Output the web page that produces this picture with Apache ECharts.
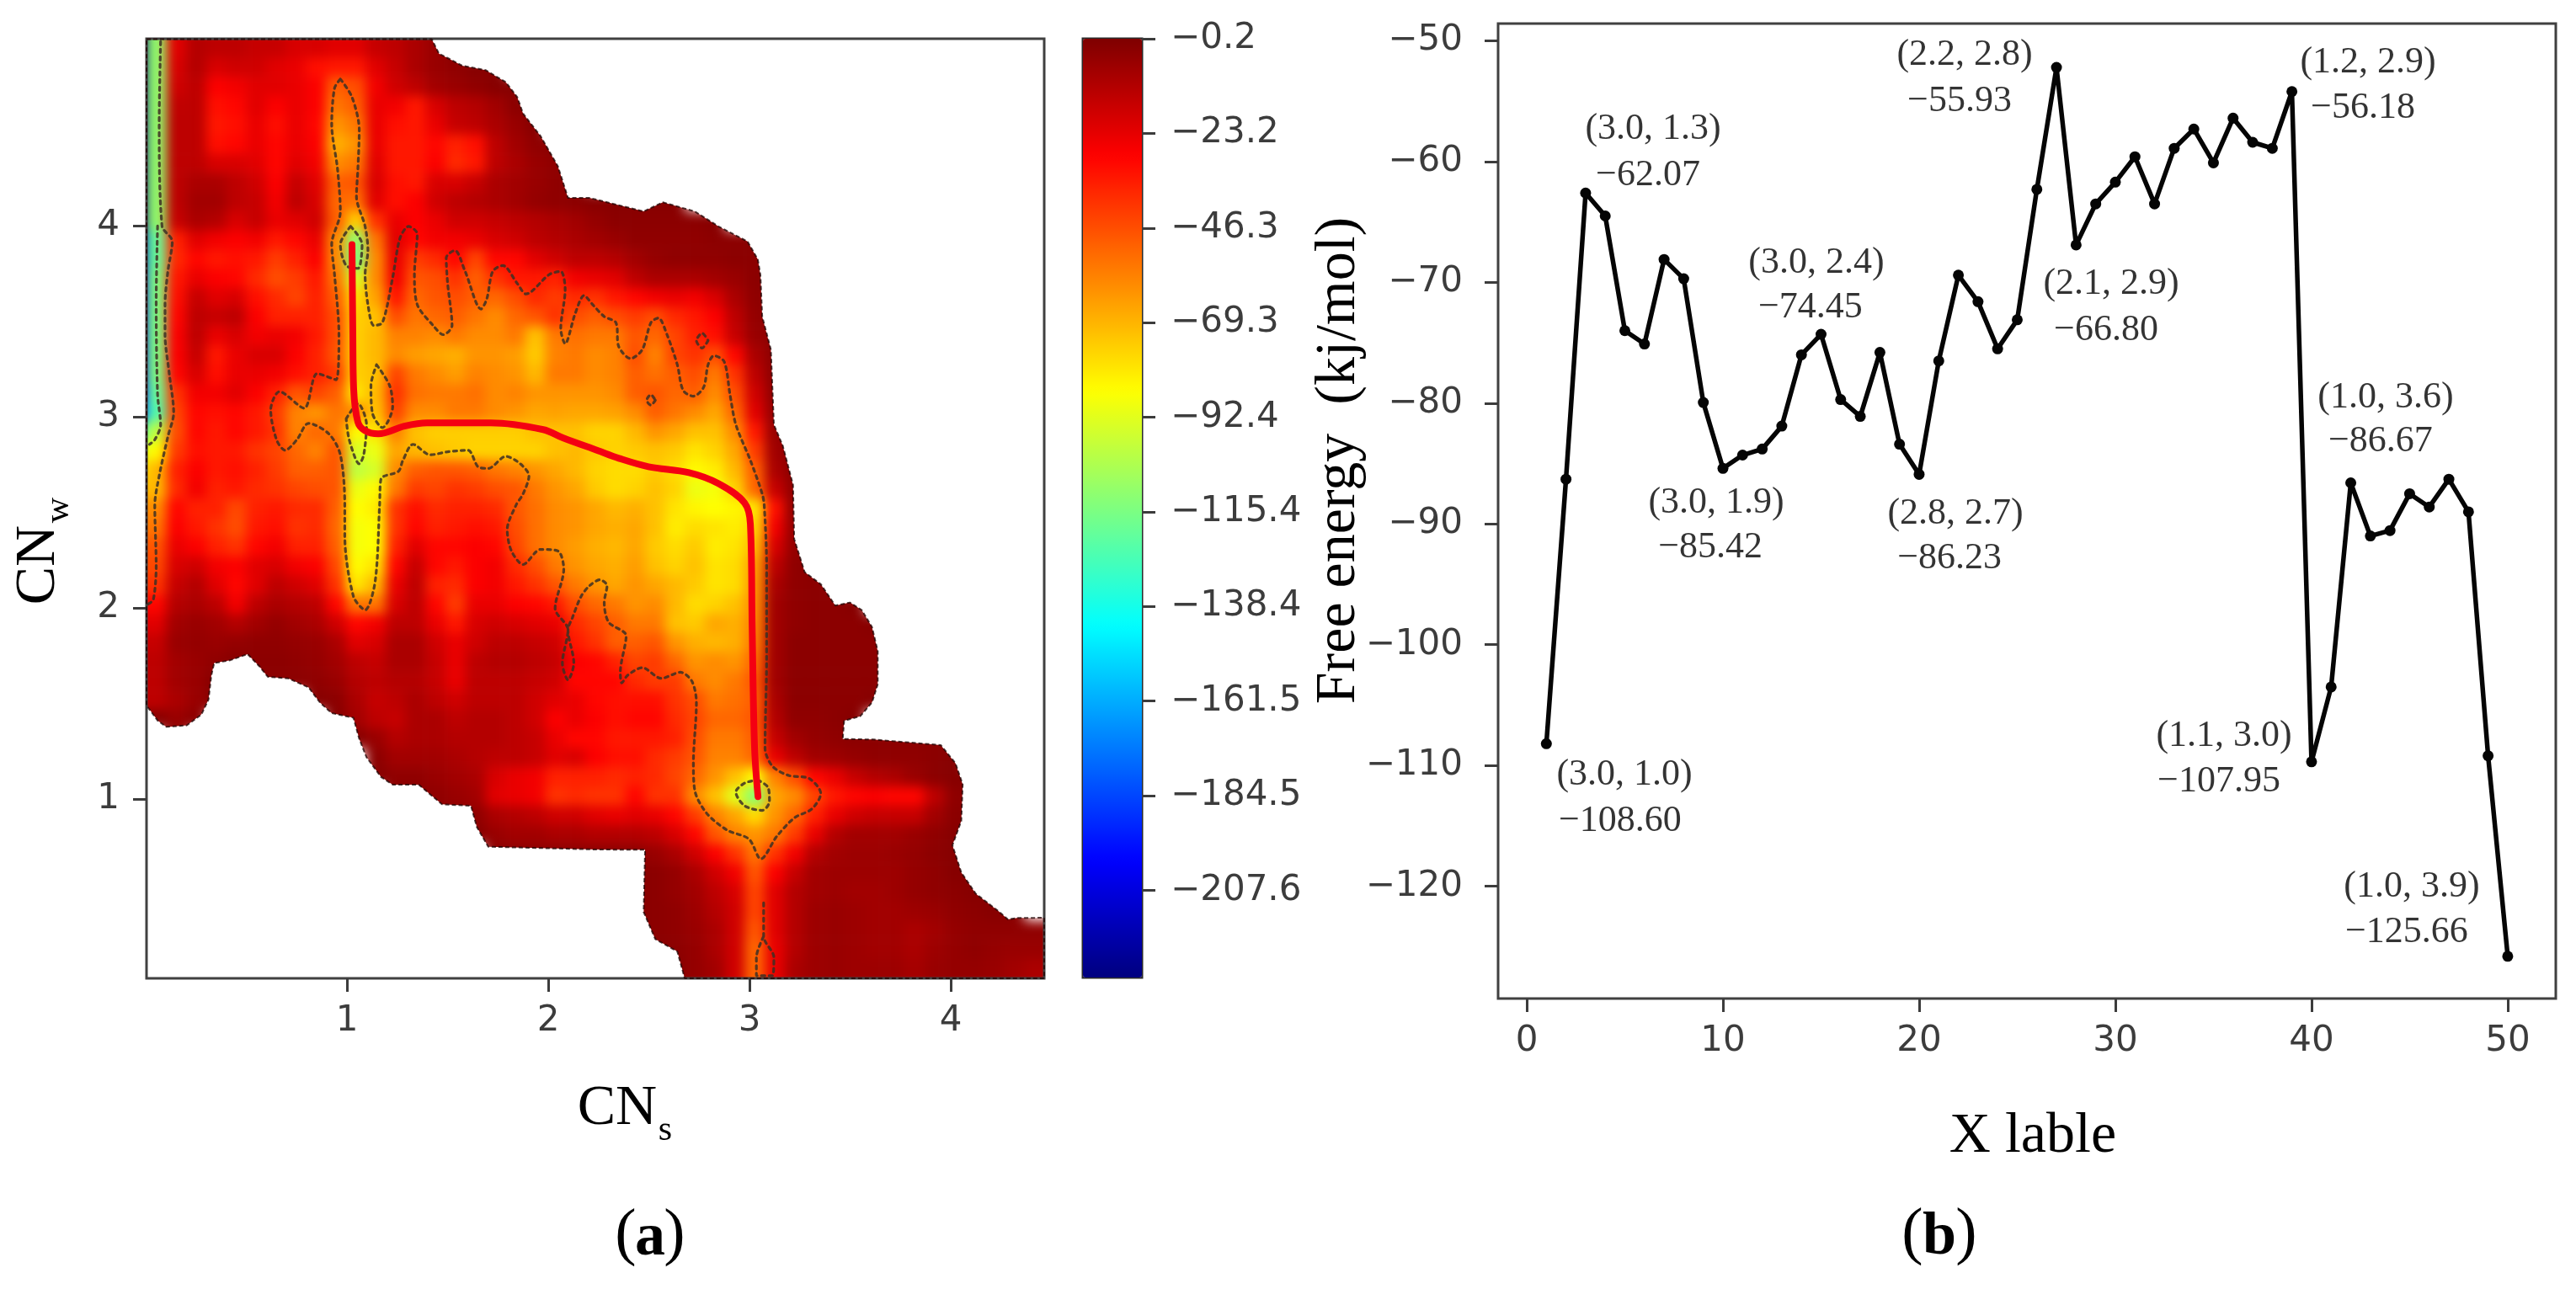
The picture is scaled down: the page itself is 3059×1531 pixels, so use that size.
<!DOCTYPE html>
<html><head><meta charset="utf-8">
<style>html,body{margin:0;padding:0;background:#fff}#c{width:3059px;height:1531px}</style>
<script src="https://cdn.jsdelivr.net/npm/echarts@6/dist/echarts.min.js"></script>
</head><body><div id="c"></div>
<script>
// ---- Panel (a): free-energy depth per cell (kJ/mol below zero), 0 = no data. Rows run top to bottom.
const heatDepth = [
[110,22,12,14,14,16,16,20,20,22,22,16,14,10,6,2],
[110,20,12,20,18,18,22,24,32,34,34,22,16,10,6,4,2,2],
[110,18,14,28,26,22,22,24,28,50,46,26,18,14,8,6,4,2,2],
[110,15,14,32,30,22,28,24,28,55,50,24,26,34,20,14,12,8,3,2],
[110,14,14,34,32,24,32,24,30,62,56,24,32,34,24,16,14,10,6,2],
[110,14,14,32,30,24,30,24,28,68,62,24,34,34,30,36,32,14,8,4,2],
[110,14,14,20,20,22,30,22,26,60,56,22,34,34,28,38,34,14,10,6,4,2],
[110,14,10,10,14,18,28,16,22,50,48,20,32,34,20,20,16,10,8,6,4,2],
[110,14,8,8,14,16,26,14,20,52,54,22,32,28,18,14,12,10,8,5,4,3,2,2,2,2,2],
[110,16,10,12,20,16,24,22,18,50,75,40,24,28,24,18,18,16,14,12,10,8,5,3,3,3,3,3,2],
[120,36,22,26,28,26,34,30,24,60,110,55,22,30,26,26,24,20,18,14,12,10,8,6,4,4,4,4,3,3,2],
[120,38,30,34,32,34,42,36,28,60,115,60,24,42,38,30,44,30,30,22,18,14,14,12,8,5,4,4,4,3,3,2],
[115,34,24,28,30,38,46,42,34,55,95,60,26,48,46,40,50,40,34,34,36,26,24,22,14,10,10,10,8,6,3,2],
[115,32,16,22,20,32,38,44,36,50,78,65,34,52,48,46,50,52,46,38,42,38,40,34,30,26,24,26,20,10,4,2],
[115,30,14,16,14,28,36,36,36,46,75,72,46,55,52,50,55,60,52,48,40,46,50,46,42,46,38,34,28,14,5,2],
[115,28,14,24,20,26,24,26,34,46,75,70,58,58,60,56,60,60,56,72,56,54,56,56,48,52,44,36,32,16,6,3,2],
[115,28,16,34,24,20,20,28,36,48,75,70,60,64,66,68,62,62,64,74,58,56,60,58,46,58,44,40,46,30,10,3,2],
[115,30,20,32,24,24,26,32,36,42,75,72,44,56,60,64,58,60,62,70,56,56,60,58,50,54,50,46,56,40,14,3,2],
[120,40,26,26,22,28,36,48,44,50,80,70,40,54,56,56,54,60,58,62,62,62,62,60,50,48,52,50,60,46,18,4,2],
[125,44,30,32,30,34,42,58,62,55,60,72,44,60,60,56,56,60,62,66,65,66,66,65,60,50,55,60,66,52,22,5,2],
[100,46,30,34,30,34,40,58,52,56,85,80,58,72,75,75,75,75,75,72,72,72,76,76,70,62,66,72,72,60,34,6,2],
[85,42,32,34,34,40,44,52,58,48,95,90,66,70,72,74,76,76,76,76,72,70,74,76,74,72,74,80,76,66,42,8,2],
[70,36,28,34,32,36,42,50,50,48,100,95,60,50,48,48,50,55,58,62,66,70,76,78,78,74,78,85,82,70,50,10,3,2],
[70,38,26,36,34,38,40,44,46,48,90,85,56,42,44,40,42,46,48,56,62,66,74,78,76,72,76,90,88,76,52,16,4,2],
[60,30,36,36,45,36,34,38,38,50,86,82,40,32,38,36,36,38,48,54,60,62,66,70,68,72,80,84,86,84,80,32,4,2],
[55,28,34,40,46,34,32,40,38,52,88,86,40,30,36,34,32,34,46,54,60,62,66,68,66,72,82,78,80,82,76,26,5,2],
[48,24,28,36,40,30,26,36,36,50,88,86,36,22,30,30,28,30,44,54,60,64,68,70,66,74,78,74,82,80,70,20,5,2],
[45,20,18,26,28,22,20,26,28,45,85,80,30,16,30,34,28,26,38,46,56,62,66,68,64,72,76,72,80,78,64,14,4,2],
[40,16,12,22,30,22,14,18,22,40,80,70,24,14,36,38,28,26,34,40,48,56,62,66,62,66,70,74,80,78,62,10,4,3,2],
[30,12,10,14,26,14,10,12,14,30,55,55,20,14,30,42,24,24,28,30,34,46,52,56,62,60,70,78,76,72,60,8,4,3,3,2],
[22,8,6,8,12,8,5,8,10,18,30,26,14,14,24,34,20,18,20,22,24,38,44,50,56,56,72,74,66,68,58,8,4,3,3,3,2],
[16,6,5,6,5,4,4,5,6,10,22,20,10,10,18,24,18,14,14,16,18,34,40,50,50,48,62,68,70,68,56,8,3,3,3,3,3,2],
[14,8,6,4,2,3,3,4,5,8,14,16,10,10,16,24,14,12,12,14,16,28,30,36,44,42,52,62,60,62,52,8,3,3,3,3,3,2],
[14,8,6,2,0,2,3,3,4,6,12,14,12,12,16,24,14,14,14,16,18,30,30,30,38,42,42,56,60,56,48,8,3,3,3,3,3,2],
[14,10,6,2,0,0,0,0,2,3,10,16,14,10,14,18,14,14,14,18,22,24,30,32,32,32,40,46,56,54,50,10,3,3,3,3,2],
[2,6,3,0,0,0,0,0,0,2,8,14,16,10,10,14,12,12,14,18,28,24,28,32,30,30,38,44,52,52,48,12,4,4,3,2],
[0,2,0,0,0,0,0,0,0,0,2,6,12,10,10,12,12,12,14,16,24,30,30,34,34,34,36,46,56,56,50,16,8,5,4,3,3,3,3,3,2],
[0,0,0,0,0,0,0,0,0,0,0,3,8,8,8,10,12,14,14,16,22,20,28,32,32,38,42,48,58,58,52,24,14,8,7,5,4,4,4,3,2],
[0,0,0,0,0,0,0,0,0,0,0,2,4,4,6,8,10,20,24,26,36,36,36,38,36,38,44,52,62,72,85,58,46,30,24,16,12,10,6,3,2,2],
[0,0,0,0,0,0,0,0,0,0,0,0,2,2,4,6,8,22,24,26,40,38,40,40,30,40,40,60,72,92,112,66,60,44,34,30,28,30,30,14,4,2],
[0,0,0,0,0,0,0,0,0,0,0,0,0,0,2,3,4,10,12,14,18,18,22,24,22,24,30,42,58,66,78,62,52,36,24,18,16,16,16,8,3,2],
[0,0,0,0,0,0,0,0,0,0,0,0,0,0,0,0,2,6,8,8,10,10,12,12,12,14,20,30,48,58,62,56,42,24,12,8,8,8,6,4,2,2],
[0,0,0,0,0,0,0,0,0,0,0,0,0,0,0,0,0,2,3,3,3,3,3,3,3,6,10,18,28,40,55,40,26,12,8,7,7,6,5,3,2,2],
[0,0,0,0,0,0,0,0,0,0,0,0,0,0,0,0,0,0,0,0,0,0,0,0,2,3,5,10,18,26,48,28,16,8,7,7,7,7,5,4,2,2],
[0,0,0,0,0,0,0,0,0,0,0,0,0,0,0,0,0,0,0,0,0,0,0,0,2,3,5,8,14,20,44,22,12,8,7,8,8,7,5,4,3,2,2],
[0,0,0,0,0,0,0,0,0,0,0,0,0,0,0,0,0,0,0,0,0,0,0,0,2,3,4,7,12,18,44,22,12,7,6,7,8,8,7,6,4,3,2,2],
[0,0,0,0,0,0,0,0,0,0,0,0,0,0,0,0,0,0,0,0,0,0,0,0,2,3,4,6,10,18,48,22,12,7,6,7,8,8,10,8,5,4,4,4,4],
[0,0,0,0,0,0,0,0,0,0,0,0,0,0,0,0,0,0,0,0,0,0,0,0,0,2,3,5,10,18,52,24,12,7,6,7,8,8,10,7,5,4,5,6,6],
[0,0,0,0,0,0,0,0,0,0,0,0,0,0,0,0,0,0,0,0,0,0,0,0,0,2,2,5,8,18,52,24,10,7,6,7,7,7,9,6,5,5,6,8,10]
];
// depth just left of the frame, row by row (the strip at CNs = 0 is much deeper at its very edge)
const heatLeftEdge = [228,228,228,228,228,228,228,228,228,228,215,215,205,205,205,205,205,205,200,190,130,95,80,70,60,55,48,45,40,30,22,16,14,14,14,2,0,0,0,0,0,0,0,0,0,0,0,0,0];
const HEAT_COLS = 45;
// outline of the sampled region (CNs, CNw)
const domainEdge = [[0.004,4.978],[1.421,4.978],[1.457,4.902],[1.515,4.871],[1.572,4.839],[1.688,4.816],[1.789,4.753],[1.846,4.674],[1.875,4.588],[1.962,4.470],[2.048,4.312],[2.098,4.147],[2.205,4.147],[2.474,4.076],[2.569,4.124],[2.728,4.076],[2.845,3.998],[2.990,3.919],[3.041,3.825],[3.054,3.744],[3.063,3.526],[3.106,3.353],[3.121,2.960],[3.165,2.850],[3.216,2.645],[3.222,2.361],[3.274,2.188],[3.354,2.125],[3.426,2.013],[3.499,2.029],[3.557,1.990],[3.608,1.902],[3.637,1.775],[3.637,1.601],[3.608,1.505],[3.550,1.434],[3.470,1.410],[3.463,1.315],[3.615,1.312],[3.950,1.283],[4.023,1.188],[4.059,1.077],[4.052,.886],[4.008,.759],[4.052,.616],[4.124,.505],[4.241,.410],[4.284,.370],[4.328,.378],[4.464,0.379],[4.464,0.062],[2.678,0.062],[2.641,.203],[2.532,.267],[2.474,.409],[2.481,.735],[2.247,.736],[1.702,.751],[1.645,.854],[1.616,.965],[1.472,.973],[1.356,1.076],[1.227,1.076],[1.169,1.116],[1.097,1.219],[1.061,1.315],[1.032,1.426],[.924,1.450],[.866,1.505],[.809,1.585],[.708,1.632],[.607,1.640],[.564,1.696],[.506,1.759],[.420,1.727],[.340,1.712],[.326,1.648],[.312,1.521],[.276,1.442],[.204,1.386],[.103,1.378],[.060,1.410],[.016,1.473],[0.004,1.489],[0.004,4.978]];
const contourMain = [[.967,4.769],[1.025,4.674],[1.061,4.501],[1.054,4.297],[1.047,4.155],[1.090,3.998],[1.104,3.872],[1.090,3.746],[1.104,3.589],[1.133,3.479],[1.176,3.494],[1.227,3.730],[1.263,3.935],[1.306,3.998],[1.349,3.958],[1.335,3.746],[1.349,3.589],[1.428,3.479],[1.479,3.431],[1.522,3.479],[1.500,3.699],[1.493,3.833],[1.536,3.872],[1.587,3.762],[1.666,3.565],[1.695,3.620],[1.724,3.762],[1.774,3.793],[1.846,3.699],[1.889,3.644],[2.005,3.746],[2.062,3.762],[2.084,3.667],[2.062,3.463],[2.084,3.384],[2.134,3.542],[2.178,3.636],[2.220,3.589],[2.278,3.526],[2.336,3.494],[2.350,3.369],[2.409,3.306],[2.467,3.353],[2.510,3.494],[2.547,3.518],[2.590,3.431],[2.641,3.274],[2.670,3.140],[2.721,3.109],[2.772,3.156],[2.794,3.274],[2.823,3.321],[2.874,3.290],[2.903,3.117],[2.932,2.960],[3.005,2.771],[3.063,2.598],[3.073,2.537],[3.085,2.220],[3.085,1.743],[3.077,1.267],[3.114,1.172],[3.194,1.124],[3.296,1.108],[3.354,1.029],[3.310,.949],[3.223,.902],[3.136,.806],[3.056,.687],[2.997,.791],[2.888,.838],[2.787,.926],[2.728,1.045],[2.721,1.188],[2.736,1.505],[2.714,1.616],[2.656,1.664],[2.561,1.632],[2.467,1.688],[2.394,1.648],[2.365,1.608],[2.358,1.664],[2.387,1.855],[2.300,1.926],[2.278,2.029],[2.292,2.117],[2.256,2.148],[2.205,2.117],[2.163,2.061],[2.120,1.950],[2.098,1.886],[2.127,1.712],[2.098,1.624],[2.070,1.712],[2.098,1.886],[2.034,1.998],[2.077,2.204],[2.048,2.299],[1.962,2.307],[1.875,2.228],[1.817,2.299],[1.796,2.410],[1.839,2.537],[1.875,2.598],[1.904,2.692],[1.861,2.755],[1.789,2.794],[1.702,2.731],[1.652,2.739],[1.601,2.826],[1.500,2.818],[1.414,2.802],[1.328,2.857],[1.277,2.771],[1.256,2.716],[1.169,2.676],[1.162,2.538],[1.140,2.140],[1.090,1.990],[1.032,2.061],[.989,2.379],[.989,2.537],[.967,2.802],[.910,2.912],[.809,2.967],[.751,2.881],[.693,2.826],[.650,2.881],[.621,3.038],[.665,3.133],[.787,3.046],[.852,3.227],[.946,3.195],[.960,3.431],[.938,3.746],[.924,3.903],[.967,4.076],[.953,4.297],[.924,4.533],[.938,4.721],[.967,4.769]];
const contourWell1 = [[1.018,3.998],[1.075,3.903],[1.054,3.778],[.996,3.793],[.967,3.903],[1.018,3.998]];
const contourWell2 = [[.996,2.991],[1.054,3.070],[1.097,2.960],[1.083,2.802],[1.061,2.755],[1.011,2.881],[.996,2.991]];
const contourIsland = [[1.147,3.274],[1.212,3.164],[1.227,3.054],[1.176,2.944],[1.126,3.022],[1.119,3.164],[1.147,3.274]];
const contourDot1 = [[2.794,3.400],[2.765,3.361],[2.736,3.400],[2.765,3.439],[2.794,3.400]];
const contourDot2 = [[2.532,3.088],[2.510,3.062],[2.489,3.088],[2.510,3.117],[2.532,3.088]];
const contourWell3 = [[3.041,1.100],[3.092,1.061],[3.099,.989],[3.063,.941],[2.976,.965],[2.932,1.037],[2.976,1.084],[3.041,1.100]];
const contourTail = [[3.070,.457],[3.070,.282],[3.121,.171],[3.114,.076],[3.034,.076],[3.034,.171],[3.070,.282]];
const contourStripOuter = [[.074,4.965],[.067,4.533],[.081,4.000],[.132,3.919],[.110,3.762],[.096,3.589],[.096,3.431],[.117,3.227],[.139,3.022],[.110,2.897],[.067,2.692],[.045,2.538],[.052,2.220],[.038,2.045],[.013,2.021]];
const contourStripInner = [[.059,4.0],[.052,3.6],[.059,3.117],[.074,2.960],[.045,2.881],[.019,2.857]];
const contours = [contourMain,contourWell1,contourWell2,contourIsland,contourDot1,contourDot2,contourWell3,contourTail,contourStripOuter,contourStripInner];
const minPath = [[1.025,3.903],[1.029,3.432],[1.033,3.150],[1.054,2.974],[1.088,2.930],[1.155,2.912],[1.285,2.952],[1.397,2.969],[1.715,2.969],[1.975,2.934],[2.075,2.890],[2.247,2.824],[2.351,2.784],[2.498,2.740],[2.699,2.709],[2.845,2.652],[2.975,2.551],[3.004,2.441],[3.013,1.903],[3.025,1.269],[3.042,1.013]];
const panelATicks = [1,2,3,4];
const barTicks = [-0.2,-23.2,-46.3,-69.3,-92.4,-115.4,-138.4,-161.5,-184.5,-207.6];
const jetColors = ['#00007f','#0000ff','#007fff','#00ffff','#7fff7f','#ffff00','#ff7f00','#ff0000','#7f0000'];
// ---- Panel (b)
const energyX = [1,2,3,4,5,6,7,8,9,10,11,12,13,14,15,16,17,18,19,20,21,22,23,24,25,26,27,28,29,30,31,32,33,34,35,36,37,38,39,40,41,42,43,44,45,46,47,48,49,50];
const energyY = [-108.2,-86.3,-62.6,-64.5,-74.0,-75.1,-68.1,-69.7,-79.95,-85.4,-84.3,-83.8,-81.9,-76.0,-74.3,-79.7,-81.1,-75.8,-83.4,-85.9,-76.5,-69.4,-71.6,-75.5,-73.1,-62.3,-52.2,-66.9,-63.5,-61.7,-59.6,-63.5,-58.9,-57.3,-60.1,-56.4,-58.4,-58.9,-54.2,-109.7,-103.5,-86.6,-91.0,-90.55,-87.5,-88.6,-86.3,-89.0,-109.2,-125.8];
const noteText = ['(3.0, 1.3)','−62.07','(2.2, 2.8)','−55.93','(3.0, 2.4)','−74.45','(3.0, 1.9)','−85.42','(2.8, 2.7)','−86.23','(2.1, 2.9)','−66.80','(1.2, 2.9)','−56.18','(1.0, 3.6)','−86.67','(3.0, 1.0)','−108.60','(1.1, 3.0)','−107.95','(1.0, 3.9)','−125.66'];
const noteX = [6.44,6.18,22.32,22.06,14.76,14.46,9.66,9.36,21.85,21.55,29.79,29.53,42.88,42.62,43.78,43.52,4.98,4.76,35.54,35.28,45.11,44.85];
const noteY = [-57.29,-61.12,-51.15,-54.99,-68.38,-72.07,-88.25,-91.95,-89.15,-92.85,-70.12,-73.95,-51.78,-55.54,-79.53,-83.16,-110.77,-114.61,-107.57,-111.33,-120.05,-123.81];
const panelBXTicks = [0,10,20,30,40,50];
const panelBYTicks = [-50,-60,-70,-80,-90,-100,-110,-120];

const minus = v => String(v).replace('-', '−');
const SERIF = '"Liberation Serif", serif', SANS = '"DejaVu Sans", sans-serif';
const INK = '#3c3c3c';
const A = {l:174, t:46, w:1066, h:1116};
const rowN = heatDepth.length, cellW = A.w/HEAT_COLS, cellH = A.h/rowN;

// heat cells; the grid carries one extra edge cell on each side so softening does not fade at the frame
const heatCells = [];
for (let r = -1; r <= rowN; r++) {
  const ri = Math.max(0, Math.min(rowN-1, r));
  const row = heatDepth[ri];
  for (let c = -1; c <= HEAT_COLS; c++) {
    const d = c < 0 ? heatLeftEdge[ri] : (row[Math.min(HEAT_COLS-1, c)] || 0);
    if (d > 0) heatCells.push([c+1, r+1, -d]);
  }
}
const idx = n => Array.from({length:n}, (_, i) => String(i));

const valueAxis = (grid, pos, min, max, ticks, margin, fmt) => ({
  type:'value', gridIndex:grid, position:pos, min, max, zlevel:1, silent:true,
  splitLine:{show:false}, axisLine:{show:false, onZero:false},
  axisTick:{show:true, length:16, customValues:ticks, lineStyle:{color:INK, width:3}},
  axisLabel:{show:true, customValues:ticks, margin, fontFamily:SANS, fontSize:42, color:INK, formatter:fmt||(v=>minus(v)), hideOverlap:false, showMinLabel:true, showMaxLabel:true}
});
const hidden = (grid, pos, min, max) => ({type:'value', gridIndex:grid, position:pos, min, max, show:false});

const lineSeries = (data, style, extra) => Object.assign({
  type:'line', xAxisIndex:1, yAxisIndex:1, data, symbol:'none', silent:true, zlevel:1, animation:false, lineStyle:style
}, extra||{});

const series = [
  {type:'heatmap', xAxisIndex:0, yAxisIndex:0, data:heatCells, silent:true, zlevel:0, progressive:0, animation:false, emphasis:{disabled:true}},
  lineSeries(domainEdge, {color:'rgba(30,0,0,0.75)', width:2, type:[5,3]}, {z:2})
];
contours.forEach(ct => series.push(lineSeries(ct, {color:'rgba(60,48,36,0.85)', width:3.2, type:[4,5], cap:'round'}, {smooth:0.3, z:3})));
series.push(lineSeries(minPath, {color:'#f40012', width:8, cap:'round', join:'round'}, {smooth:0.35, z:4}));
series.push({
  type:'line', xAxisIndex:3, yAxisIndex:3, zlevel:1, silent:true, animation:false,
  data:energyX.map((x,i)=>[x,energyY[i]]), symbol:'circle', symbolSize:13,
  itemStyle:{color:'#050505'}, lineStyle:{color:'#050505', width:5.5}
});
series.push({
  type:'scatter', xAxisIndex:3, yAxisIndex:3, zlevel:1, silent:true, animation:false,
  symbolSize:1, itemStyle:{color:'rgba(0,0,0,0)'},
  data:noteText.map((t,i)=>({value:[noteX[i],noteY[i]], label:{formatter:t}})),
  label:{show:true, position:'inside', align:'center', verticalAlign:'middle', fontFamily:SERIF, fontSize:44, color:'#000'}
});

const txt = (text, x, y, size, extra, rot) => ({
  type:'text', x, y, rotation:rot||0, zlevel:1, silent:true,
  style:Object.assign({text, fontFamily:SERIF, fontSize:size, fill:'#000', textAlign:'center', textVerticalAlign:'middle'}, extra||{})
});

const option = {
  animation:false, backgroundColor:'#fff',
  grid:[
    {left:A.l-cellW, top:A.t-cellH, width:A.w+2*cellW, height:A.h+2*cellH, show:false},
    {left:A.l, top:A.t, width:A.w, height:A.h, show:true, zlevel:1, backgroundColor:'transparent', borderColor:'#404040', borderWidth:3},
    {left:1286, top:46, width:70, height:1115, show:true, zlevel:1, backgroundColor:'transparent', borderColor:'#2a2a2a', borderWidth:3},
    {left:1779, top:28, width:1256, height:1158, show:true, zlevel:1, backgroundColor:'transparent', borderColor:'#404040', borderWidth:3}
  ],
  xAxis:[
    {type:'category', gridIndex:0, data:idx(HEAT_COLS+2), show:false, boundaryGap:true, position:'top'},
    valueAxis(1,'bottom',0.004,4.464,panelATicks,30),
    hidden(2,'bottom',0,1),
    valueAxis(3,'bottom',-1.46,52.45,panelBXTicks,30)
  ],
  yAxis:[
    {type:'category', gridIndex:0, data:idx(rowN+2), show:false, boundaryGap:true, inverse:true, position:'right'},
    valueAxis(1,'left',0.062,4.98,panelATicks,32),
    valueAxis(2,'right',-228.8,-0.2,barTicks,34,v=>minus(v.toFixed(1))),
    valueAxis(3,'left',-129.3,-48.57,panelBYTicks,42)
  ],
  visualMap:{
    type:'continuous', seriesIndex:0, dimension:2, min:-228.8, max:-0.2, show:true, calculable:false, hoverLink:false,
    left:1286, top:46, itemWidth:70, itemHeight:1115, padding:0, text:null, zlevel:1, inRange:{color:jetColors}
  },
  series,
  graphic:{elements:[
    txt('CN', 46, 671, 68, null, Math.PI/2),
    txt('w', 70, 606, 42, null, Math.PI/2),
    txt('CN', 733, 1317, 68),
    txt('s', 790, 1343, 42),
    txt('(', 743, 1468, 76),
    txt('a', 772, 1471, 72, {fontWeight:'bold'}),
    txt(')', 801, 1468, 76),
    txt('Free energy  (kj/mol)', 1590, 547, 68, null, Math.PI/2),
    txt('X lable', 2414, 1350, 68),
    txt('(', 2271, 1467, 76),
    txt('b', 2303, 1470, 72, {fontWeight:'bold'}),
    txt(')', 2335, 1467, 76)
  ]}
};

const chart = echarts.init(document.getElementById('c'), null, {width:3059, height:1531, renderer:'canvas'});
chart.setOption(option);

// soften the coarse heat layer and trim it to the traced outline of the sampled region
function shapeHeatLayer() {
  const canvas = chart.getDom().querySelector('canvas');
  if (!canvas) return;
  const pts = domainEdge.map(p => chart.convertToPixel({seriesIndex:1}, p)).map(p => p[0].toFixed(1)+'px '+p[1].toFixed(1)+'px');
  canvas.style.filter = 'blur(7px)';
  canvas.style.clipPath = 'polygon(' + pts.join(',') + ')';
}
shapeHeatLayer();
chart.on('finished', shapeHeatLayer);
</script></body></html>
